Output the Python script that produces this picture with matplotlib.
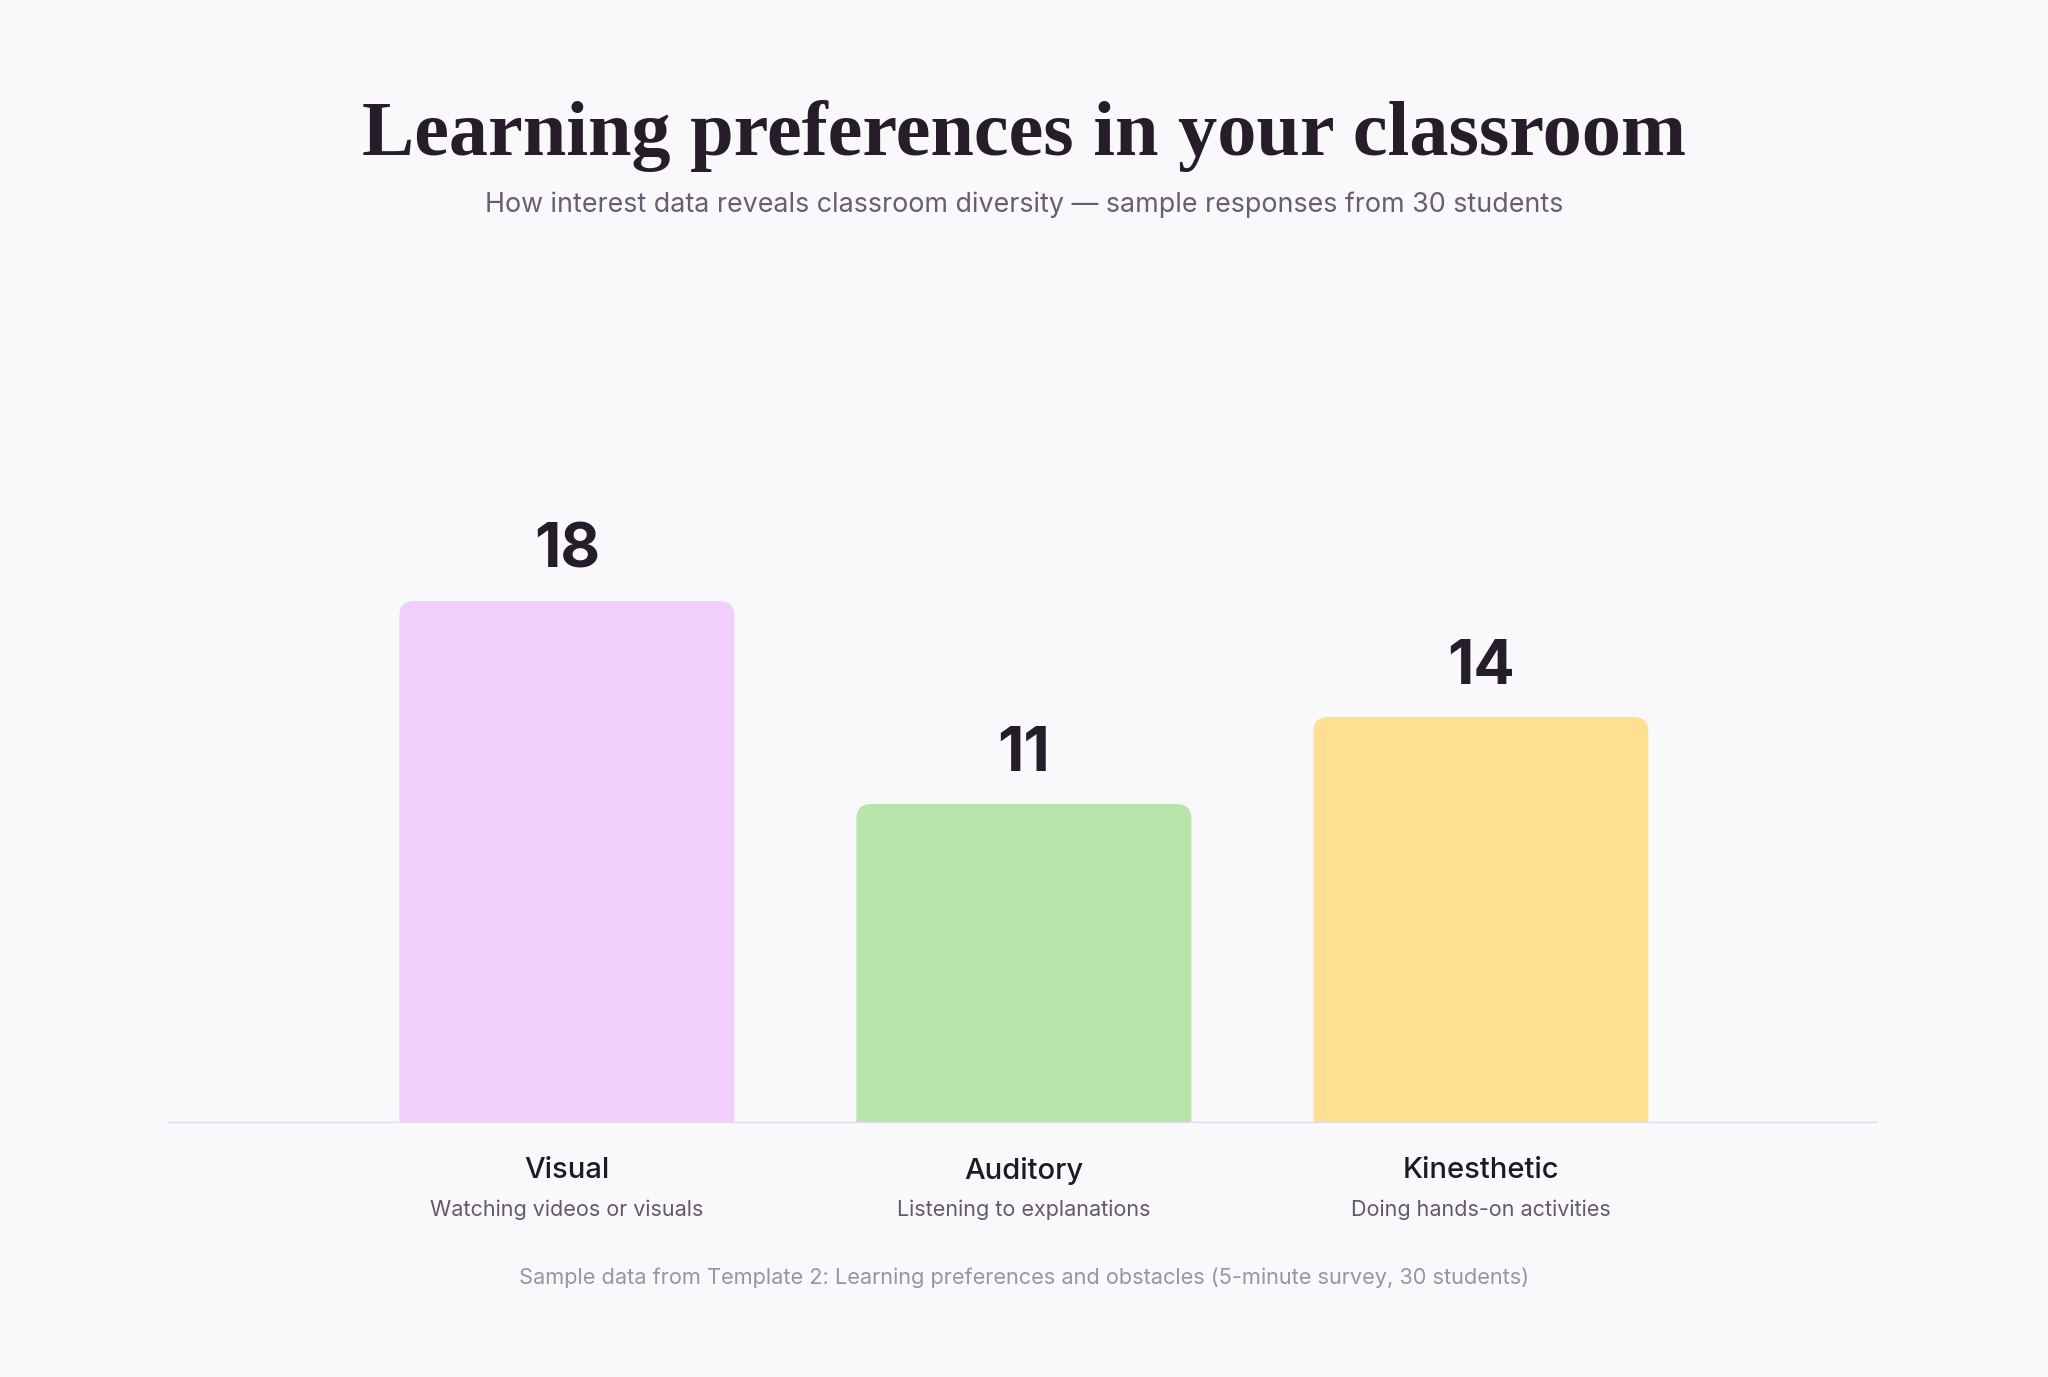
import matplotlib
matplotlib.use("Agg")
import matplotlib.pyplot as plt
from matplotlib.patches import FancyBboxPatch

categories = ["Visual", "Auditory", "Kinesthetic"]
descriptions = ["Watching videos or visuals", "Listening to explanations", "Doing hands-on activities"]
values = [18, 11, 14]
colors = ["#f2cffb", "#b7e5ab", "#ffdf91"]

BG = "#f9f9fb"
fig = plt.figure(figsize=(20.48, 13.77), dpi=100, facecolor=BG)

# axes: baseline at y=1123 px, top (value 18) at 601 px
ax = fig.add_axes([167/2048, (1377-1123)/1377, 1711/2048, 522/1377])
ax.set_facecolor(BG)
ax.set_xlim(-0.875, 2.869)
ax.set_ylim(0, max(values))
for s in ax.spines.values():
    s.set_visible(False)
ax.set_xticks([])
ax.set_yticks([])

bar_w = 0.733
px_x = 1711 / (2.869 + 0.875)
px_y = 522 / max(values)
r_px = 15
r = r_px / px_x
mut_aspect = px_x / px_y
ext = 20 / px_y
for i, (v, c) in enumerate(zip(values, colors)):
    p = FancyBboxPatch((i - bar_w/2, -ext), bar_w, v + ext,
                       boxstyle=f"round,pad=0,rounding_size={r}",
                       mutation_aspect=mut_aspect,
                       facecolor=c, edgecolor="none", clip_on=True, zorder=2)
    ax.add_patch(p)
    ax.annotate(str(v), (i, v), xytext=(0, 33*0.72), textcoords="offset points",
                ha="center", va="baseline", fontsize=44, fontweight="bold",
                family="Inter", color="#261d2b", zorder=3)
    ax.text(i, -48/px_y, categories[i], ha="center", va="center", fontsize=21,
            fontweight="medium", family="Inter", color="#1e1a22", clip_on=False)
    ax.text(i, -87/px_y, descriptions[i], ha="center", va="center", fontsize=15.5,
            family="Inter", color="#65586c", clip_on=False)

ax.axhline(0, color="#e0d9e8", lw=2.5, zorder=3)

fig.text(0.5, 1 - 136/1377, "Learning preferences in your classroom", ha="center", va="center",
         fontsize=56.3, fontweight="bold", family="Liberation Serif", color="#261c2a")
fig.text(0.5, 1 - 205/1377, "How interest data reveals classroom diversity \u2014 sample responses from 30 students",
         ha="center", va="center", fontsize=19.3, family="Inter", color="#6b5b73")
fig.text(0.5, 1 - 1278/1377,
         "Sample data from Template 2: Learning preferences and obstacles (5-minute survey, 30 students)",
         ha="center", va="center", fontsize=15.65, family="Inter", color="#9a93a2")

fig.savefig("out.png", dpi=100, facecolor=BG)
